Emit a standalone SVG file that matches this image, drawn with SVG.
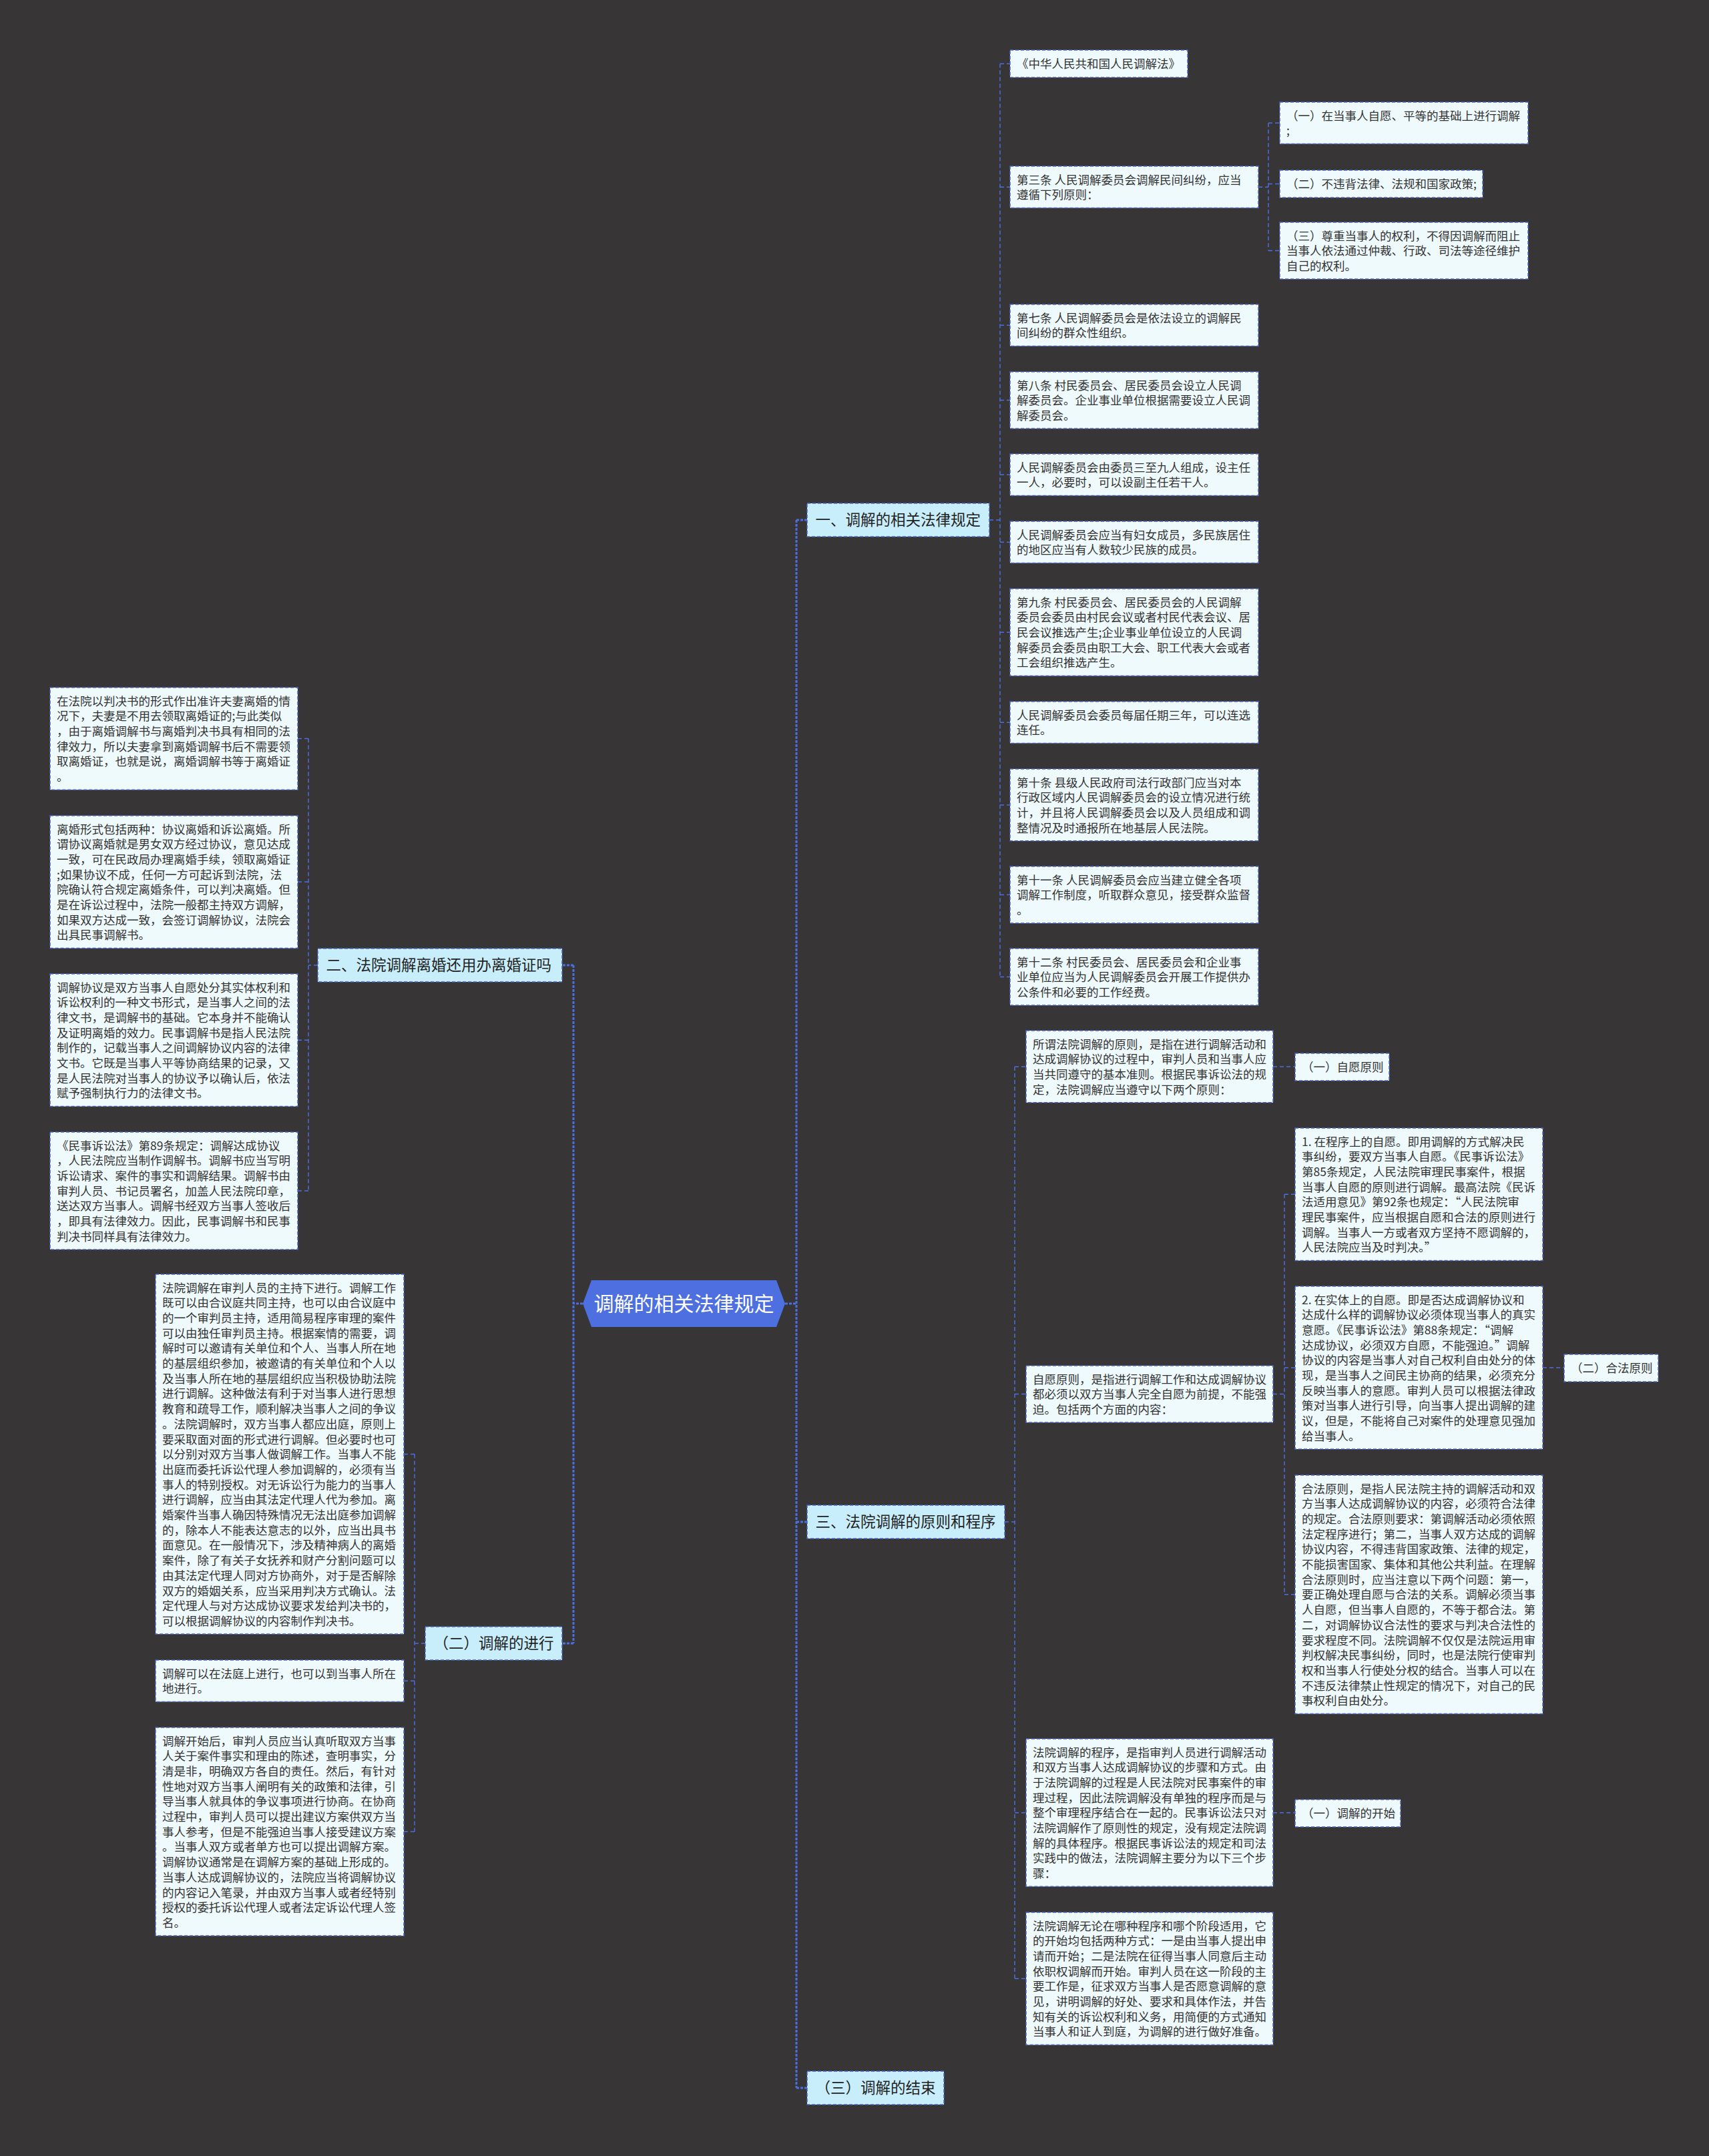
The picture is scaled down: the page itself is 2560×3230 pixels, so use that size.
<svg xmlns="http://www.w3.org/2000/svg" width="2560" height="3230" viewBox="0 0 2560 3230">
<style>
.leaf rect{fill:#effafd;stroke:#4b63c4;stroke-width:1.5;stroke-dasharray:5 3}
.l1 rect{fill:#c9eefb;stroke:#4b63c4;stroke-width:1.5;stroke-dasharray:5 3}
text{font-family:"Noto Sans CJK SC","Noto Sans",sans-serif;fill:#333}
.t{font-size:17.5px}
.l1 text{font-size:22.5px;fill:#222}
.root text{font-size:30px;fill:#fff}
.conn path{fill:none;stroke:#4b6ee0;stroke-width:1.5;stroke-dasharray:6 4}
.conn path.c1{stroke-width:3;stroke-dasharray:4 2}
</style>
<rect x="0" y="0" width="2560" height="3230" fill="#373536"/>

<g class="conn">
<path class="c1" d="M1176 1953H1193M1193 779V3128M1193 779H1209M1193 2280H1209M1193 3128H1209"/>
<path class="c1" d="M873 1953H859M859 1446V2462M859 1446H842M859 2462H842"/>
<path d="M1482 779H1498M1498 95.5V1463.5M1498 95.5H1513M1498 280.2H1513M1498 487.2H1513M1498 599.5H1513M1498 711.2H1513M1498 812.2H1513M1498 947.2H1513M1498 1082.2H1513M1498 1205.9H1513M1498 1340.5H1513M1498 1463.5H1513"/>
<path d="M1885 280.2H1900M1900 184.2V375.5M1900 184.2H1917M1900 275.5H1917M1900 375.5H1917"/>
<path d="M1505 2280H1520M1520 1597.9V2964.3M1520 1597.9H1537M1520 2088.6H1537M1520 2715.7H1537M1520 2964.3H1537"/>
<path d="M1907 1597.9H1940M1907 2715.7H1940M2311 2049H2343"/>
<path d="M1907 2088.6H1924M1924 1789.3V2388.8M1924 1789.3H1940M1924 2049H1940M1924 2388.8H1940"/>
<path d="M476 1446H462M462 1106.6V1784M462 1106.6H446M462 1321.3H446M462 1558.3H446M462 1784H446"/>
<path d="M637 2462H621M621 2178.5V2744M621 2178.5H605M621 2518.2H605M621 2744H605"/>
</g>

<g id="root" class="root">
<polygon points="873,1953 886,1918 1163,1918 1176,1953 1163,1988 886,1988" fill="#4d6fe0"/>
<text x="1024.5" y="1964" text-anchor="middle">调解的相关法律规定</text>
</g>

<g id="b1" class="l1"><rect x="1209" y="754" width="273" height="50"/><text x="1221.5" y="787">一、调解的相关法律规定</text></g>
<g id="b2" class="l1"><rect x="476" y="1421" width="366" height="50"/><text x="488.5" y="1454">二、法院调解离婚还用办离婚证吗</text></g>
<g id="b3" class="l1"><rect x="1209" y="2255" width="296" height="50"/><text x="1221.5" y="2288">三、法院调解的原则和程序</text></g>
<g id="b4" class="l1"><rect x="637" y="2437" width="205" height="50"/><text x="649.5" y="2470">（二）调解的进行</text></g>
<g id="b5" class="l1"><rect x="1209" y="3103" width="205" height="50"/><text x="1221.5" y="3136">（三）调解的结束</text></g>

<g id="n1" class="leaf"><rect x="1513" y="75" width="266" height="41"/><text class="t" x="1523" y="102">《中华人民共和国人民调解法》</text></g>
<g id="n2" class="leaf"><rect x="1513" y="249" width="372" height="62.4"/><text class="t" y="275.5"><tspan x="1523">第三条 人民调解委员会调解民间纠纷，应当</tspan><tspan x="1523" dy="22.7">遵循下列原则：</tspan></text></g>
<g id="n2a" class="leaf"><rect x="1917" y="153" width="372" height="62.4"/><text class="t" y="179.5"><tspan x="1927">（一）在当事人自愿、平等的基础上进行调解</tspan><tspan x="1927" dy="22.7">;</tspan></text></g>
<g id="n2b" class="leaf"><rect x="1917" y="255" width="304" height="41"/><text class="t" x="1927" y="282">（二）不违背法律、法规和国家政策;</text></g>
<g id="n2c" class="leaf"><rect x="1917" y="333" width="372" height="85.1"/><text class="t" y="359.5"><tspan x="1927">（三）尊重当事人的权利，不得因调解而阻止</tspan><tspan x="1927" dy="22.7">当事人依法通过仲裁、行政、司法等途径维护</tspan><tspan x="1927" dy="22.7">自己的权利。</tspan></text></g>
<g id="n3" class="leaf"><rect x="1513" y="456" width="372" height="62.4"/><text class="t" y="482.5"><tspan x="1523">第七条 人民调解委员会是依法设立的调解民</tspan><tspan x="1523" dy="22.7">间纠纷的群众性组织。</tspan></text></g>
<g id="n4" class="leaf"><rect x="1513" y="557" width="372" height="85.1"/><text class="t" y="583.5"><tspan x="1523">第八条 村民委员会、居民委员会设立人民调</tspan><tspan x="1523" dy="22.7">解委员会。企业事业单位根据需要设立人民调</tspan><tspan x="1523" dy="22.7">解委员会。</tspan></text></g>
<g id="n5" class="leaf"><rect x="1513" y="680" width="372" height="62.4"/><text class="t" y="706.5"><tspan x="1523">人民调解委员会由委员三至九人组成，设主任</tspan><tspan x="1523" dy="22.7">一人，必要时，可以设副主任若干人。</tspan></text></g>
<g id="n6" class="leaf"><rect x="1513" y="781" width="372" height="62.4"/><text class="t" y="807.5"><tspan x="1523">人民调解委员会应当有妇女成员，多民族居住</tspan><tspan x="1523" dy="22.7">的地区应当有人数较少民族的成员。</tspan></text></g>
<g id="n7" class="leaf"><rect x="1513" y="882" width="372" height="130.5"/><text class="t" y="908.5"><tspan x="1523">第九条 村民委员会、居民委员会的人民调解</tspan><tspan x="1523" dy="22.7">委员会委员由村民会议或者村民代表会议、居</tspan><tspan x="1523" dy="22.7">民会议推选产生;企业事业单位设立的人民调</tspan><tspan x="1523" dy="22.7">解委员会委员由职工大会、职工代表大会或者</tspan><tspan x="1523" dy="22.7">工会组织推选产生。</tspan></text></g>
<g id="n8" class="leaf"><rect x="1513" y="1051" width="372" height="62.4"/><text class="t" y="1077.5"><tspan x="1523">人民调解委员会委员每届任期三年，可以连选</tspan><tspan x="1523" dy="22.7">连任。</tspan></text></g>
<g id="n9" class="leaf"><rect x="1513" y="1152" width="372" height="107.8"/><text class="t" y="1178.5"><tspan x="1523">第十条 县级人民政府司法行政部门应当对本</tspan><tspan x="1523" dy="22.7">行政区域内人民调解委员会的设立情况进行统</tspan><tspan x="1523" dy="22.7">计，并且将人民调解委员会以及人员组成和调</tspan><tspan x="1523" dy="22.7">整情况及时通报所在地基层人民法院。</tspan></text></g>
<g id="n10" class="leaf"><rect x="1513" y="1298" width="372" height="85.1"/><text class="t" y="1324.5"><tspan x="1523">第十一条 人民调解委员会应当建立健全各项</tspan><tspan x="1523" dy="22.7">调解工作制度，听取群众意见，接受群众监督</tspan><tspan x="1523" dy="22.7">。</tspan></text></g>
<g id="n11" class="leaf"><rect x="1513" y="1421" width="372" height="85.1"/><text class="t" y="1447.5"><tspan x="1523">第十二条 村民委员会、居民委员会和企业事</tspan><tspan x="1523" dy="22.7">业单位应当为人民调解委员会开展工作提供办</tspan><tspan x="1523" dy="22.7">公条件和必要的工作经费。</tspan></text></g>

<g id="p1" class="leaf"><rect x="1537" y="1544" width="370" height="107.8"/><text class="t" y="1570.5"><tspan x="1547">所谓法院调解的原则，是指在进行调解活动和</tspan><tspan x="1547" dy="22.7">达成调解协议的过程中，审判人员和当事人应</tspan><tspan x="1547" dy="22.7">当共同遵守的基本准则。根据民事诉讼法的规</tspan><tspan x="1547" dy="22.7">定，法院调解应当遵守以下两个原则：</tspan></text></g>
<g id="p1a" class="leaf"><rect x="1940" y="1578" width="141" height="41"/><text class="t" x="1950" y="1605">（一）自愿原则</text></g>
<g id="p2" class="leaf"><rect x="1537" y="2046" width="370" height="85.1"/><text class="t" y="2072.5"><tspan x="1547">自愿原则，是指进行调解工作和达成调解协议</tspan><tspan x="1547" dy="22.7">都必须以双方当事人完全自愿为前提，不能强</tspan><tspan x="1547" dy="22.7">迫。包括两个方面的内容：</tspan></text></g>
<g id="p2a" class="leaf"><rect x="1940" y="1690" width="371" height="198.6"/><text class="t" y="1716.5"><tspan x="1950">1. 在程序上的自愿。即用调解的方式解决民</tspan><tspan x="1950" dy="22.7">事纠纷，要双方当事人自愿。《民事诉讼法》</tspan><tspan x="1950" dy="22.7">第85条规定，人民法院审理民事案件，根据</tspan><tspan x="1950" dy="22.7">当事人自愿的原则进行调解。最高法院《民诉</tspan><tspan x="1950" dy="22.7">法适用意见》第92条也规定：“人民法院审</tspan><tspan x="1950" dy="22.7">理民事案件，应当根据自愿和合法的原则进行</tspan><tspan x="1950" dy="22.7">调解。当事人一方或者双方坚持不愿调解的，</tspan><tspan x="1950" dy="22.7">人民法院应当及时判决。”</tspan></text></g>
<g id="p2b" class="leaf"><rect x="1940" y="1927" width="371" height="244"/><text class="t" y="1953.5"><tspan x="1950">2. 在实体上的自愿。即是否达成调解协议和</tspan><tspan x="1950" dy="22.7">达成什么样的调解协议必须体现当事人的真实</tspan><tspan x="1950" dy="22.7">意愿。《民事诉讼法》第88条规定：“调解</tspan><tspan x="1950" dy="22.7">达成协议，必须双方自愿，不能强迫。”调解</tspan><tspan x="1950" dy="22.7">协议的内容是当事人对自己权利自由处分的体</tspan><tspan x="1950" dy="22.7">现，是当事人之间民主协商的结果，必须充分</tspan><tspan x="1950" dy="22.7">反映当事人的意愿。审判人员可以根据法律政</tspan><tspan x="1950" dy="22.7">策对当事人进行引导，向当事人提出调解的建</tspan><tspan x="1950" dy="22.7">议，但是，不能将自己对案件的处理意见强加</tspan><tspan x="1950" dy="22.7">给当事人。</tspan></text></g>
<g id="p2b1" class="leaf"><rect x="2343" y="2029" width="141" height="41"/><text class="t" x="2353" y="2056">（二）合法原则</text></g>
<g id="p2c" class="leaf"><rect x="1940" y="2210" width="371" height="357.5"/><text class="t" y="2236.5"><tspan x="1950">合法原则，是指人民法院主持的调解活动和双</tspan><tspan x="1950" dy="22.7">方当事人达成调解协议的内容，必须符合法律</tspan><tspan x="1950" dy="22.7">的规定。合法原则要求：第调解活动必须依照</tspan><tspan x="1950" dy="22.7">法定程序进行；第二，当事人双方达成的调解</tspan><tspan x="1950" dy="22.7">协议内容，不得违背国家政策、法律的规定，</tspan><tspan x="1950" dy="22.7">不能损害国家、集体和其他公共利益。在理解</tspan><tspan x="1950" dy="22.7">合法原则时，应当注意以下两个问题：第一，</tspan><tspan x="1950" dy="22.7">要正确处理自愿与合法的关系。调解必须当事</tspan><tspan x="1950" dy="22.7">人自愿，但当事人自愿的，不等于都合法。第</tspan><tspan x="1950" dy="22.7">二，对调解协议合法性的要求与判决合法性的</tspan><tspan x="1950" dy="22.7">要求程度不同。法院调解不仅仅是法院运用审</tspan><tspan x="1950" dy="22.7">判权解决民事纠纷，同时，也是法院行使审判</tspan><tspan x="1950" dy="22.7">权和当事人行使处分权的结合。当事人可以在</tspan><tspan x="1950" dy="22.7">不违反法律禁止性规定的情况下，对自己的民</tspan><tspan x="1950" dy="22.7">事权利自由处分。</tspan></text></g>
<g id="p3" class="leaf"><rect x="1537" y="2605" width="370" height="221.3"/><text class="t" y="2631.5"><tspan x="1547">法院调解的程序，是指审判人员进行调解活动</tspan><tspan x="1547" dy="22.7">和双方当事人达成调解协议的步骤和方式。由</tspan><tspan x="1547" dy="22.7">于法院调解的过程是人民法院对民事案件的审</tspan><tspan x="1547" dy="22.7">理过程，因此法院调解没有单独的程序而是与</tspan><tspan x="1547" dy="22.7">整个审理程序结合在一起的。民事诉讼法只对</tspan><tspan x="1547" dy="22.7">法院调解作了原则性的规定，没有规定法院调</tspan><tspan x="1547" dy="22.7">解的具体程序。根据民事诉讼法的规定和司法</tspan><tspan x="1547" dy="22.7">实践中的做法，法院调解主要分为以下三个步</tspan><tspan x="1547" dy="22.7">骤：</tspan></text></g>
<g id="p3a" class="leaf"><rect x="1940" y="2696" width="158" height="41"/><text class="t" x="1950" y="2723">（一）调解的开始</text></g>
<g id="p4" class="leaf"><rect x="1537" y="2865" width="370" height="198.6"/><text class="t" y="2891.5"><tspan x="1547">法院调解无论在哪种程序和哪个阶段适用，它</tspan><tspan x="1547" dy="22.7">的开始均包括两种方式：一是由当事人提出申</tspan><tspan x="1547" dy="22.7">请而开始；二是法院在征得当事人同意后主动</tspan><tspan x="1547" dy="22.7">依职权调解而开始。审判人员在这一阶段的主</tspan><tspan x="1547" dy="22.7">要工作是，征求双方当事人是否愿意调解的意</tspan><tspan x="1547" dy="22.7">见，讲明调解的好处、要求和具体作法，并告</tspan><tspan x="1547" dy="22.7">知有关的诉讼权利和义务，用简便的方式通知</tspan><tspan x="1547" dy="22.7">当事人和证人到庭，为调解的进行做好准备。</tspan></text></g>

<g id="a1" class="leaf"><rect x="75" y="1030" width="371" height="153.2"/><text class="t" y="1056.5"><tspan x="85">在法院以判决书的形式作出准许夫妻离婚的情</tspan><tspan x="85" dy="22.7">况下，夫妻是不用去领取离婚证的;与此类似</tspan><tspan x="85" dy="22.7">，由于离婚调解书与离婚判决书具有相同的法</tspan><tspan x="85" dy="22.7">律效力，所以夫妻拿到离婚调解书后不需要领</tspan><tspan x="85" dy="22.7">取离婚证，也就是说，离婚调解书等于离婚证</tspan><tspan x="85" dy="22.7">。</tspan></text></g>
<g id="a2" class="leaf"><rect x="75" y="1222" width="371" height="198.6"/><text class="t" y="1248.5"><tspan x="85">离婚形式包括两种：协议离婚和诉讼离婚。所</tspan><tspan x="85" dy="22.7">谓协议离婚就是男女双方经过协议，意见达成</tspan><tspan x="85" dy="22.7">一致，可在民政局办理离婚手续，领取离婚证</tspan><tspan x="85" dy="22.7">;如果协议不成，任何一方可起诉到法院，法</tspan><tspan x="85" dy="22.7">院确认符合规定离婚条件，可以判决离婚。但</tspan><tspan x="85" dy="22.7">是在诉讼过程中，法院一般都主持双方调解，</tspan><tspan x="85" dy="22.7">如果双方达成一致，会签订调解协议，法院会</tspan><tspan x="85" dy="22.7">出具民事调解书。</tspan></text></g>
<g id="a3" class="leaf"><rect x="75" y="1459" width="371" height="198.6"/><text class="t" y="1485.5"><tspan x="85">调解协议是双方当事人自愿处分其实体权利和</tspan><tspan x="85" dy="22.7">诉讼权利的一种文书形式，是当事人之间的法</tspan><tspan x="85" dy="22.7">律文书，是调解书的基础。它本身并不能确认</tspan><tspan x="85" dy="22.7">及证明离婚的效力。民事调解书是指人民法院</tspan><tspan x="85" dy="22.7">制作的，记载当事人之间调解协议内容的法律</tspan><tspan x="85" dy="22.7">文书。它既是当事人平等协商结果的记录，又</tspan><tspan x="85" dy="22.7">是人民法院对当事人的协议予以确认后，依法</tspan><tspan x="85" dy="22.7">赋予强制执行力的法律文书。</tspan></text></g>
<g id="a4" class="leaf"><rect x="75" y="1696" width="371" height="175.9"/><text class="t" y="1722.5"><tspan x="85">《民事诉讼法》第89条规定：调解达成协议</tspan><tspan x="85" dy="22.7">，人民法院应当制作调解书。调解书应当写明</tspan><tspan x="85" dy="22.7">诉讼请求、案件的事实和调解结果。调解书由</tspan><tspan x="85" dy="22.7">审判人员、书记员署名，加盖人民法院印章，</tspan><tspan x="85" dy="22.7">送达双方当事人。调解书经双方当事人签收后</tspan><tspan x="85" dy="22.7">，即具有法律效力。因此，民事调解书和民事</tspan><tspan x="85" dy="22.7">判决书同样具有法律效力。</tspan></text></g>

<g id="c1" class="leaf"><rect x="233" y="1909" width="372" height="539.1"/><text class="t" y="1935.5"><tspan x="243">法院调解在审判人员的主持下进行。调解工作</tspan><tspan x="243" dy="22.7">既可以由合议庭共同主持，也可以由合议庭中</tspan><tspan x="243" dy="22.7">的一个审判员主持，适用简易程序审理的案件</tspan><tspan x="243" dy="22.7">可以由独任审判员主持。根据案情的需要，调</tspan><tspan x="243" dy="22.7">解时可以邀请有关单位和个人、当事人所在地</tspan><tspan x="243" dy="22.7">的基层组织参加，被邀请的有关单位和个人以</tspan><tspan x="243" dy="22.7">及当事人所在地的基层组织应当积极协助法院</tspan><tspan x="243" dy="22.7">进行调解。这种做法有利于对当事人进行思想</tspan><tspan x="243" dy="22.7">教育和疏导工作，顺利解决当事人之间的争议</tspan><tspan x="243" dy="22.7">。法院调解时，双方当事人都应出庭，原则上</tspan><tspan x="243" dy="22.7">要采取面对面的形式进行调解。但必要时也可</tspan><tspan x="243" dy="22.7">以分别对双方当事人做调解工作。当事人不能</tspan><tspan x="243" dy="22.7">出庭而委托诉讼代理人参加调解的，必须有当</tspan><tspan x="243" dy="22.7">事人的特别授权。对无诉讼行为能力的当事人</tspan><tspan x="243" dy="22.7">进行调解，应当由其法定代理人代为参加。离</tspan><tspan x="243" dy="22.7">婚案件当事人确因特殊情况无法出庭参加调解</tspan><tspan x="243" dy="22.7">的，除本人不能表达意志的以外，应当出具书</tspan><tspan x="243" dy="22.7">面意见。在一般情况下，涉及精神病人的离婚</tspan><tspan x="243" dy="22.7">案件，除了有关子女抚养和财产分割问题可以</tspan><tspan x="243" dy="22.7">由其法定代理人同对方协商外，对于是否解除</tspan><tspan x="243" dy="22.7">双方的婚姻关系，应当采用判决方式确认。法</tspan><tspan x="243" dy="22.7">定代理人与对方达成协议要求发给判决书的，</tspan><tspan x="243" dy="22.7">可以根据调解协议的内容制作判决书。</tspan></text></g>
<g id="c2" class="leaf"><rect x="233" y="2487" width="372" height="62.4"/><text class="t" y="2513.5"><tspan x="243">调解可以在法庭上进行，也可以到当事人所在</tspan><tspan x="243" dy="22.7">地进行。</tspan></text></g>
<g id="c3" class="leaf"><rect x="233" y="2588" width="372" height="312.1"/><text class="t" y="2614.5"><tspan x="243">调解开始后，审判人员应当认真听取双方当事</tspan><tspan x="243" dy="22.7">人关于案件事实和理由的陈述，查明事实，分</tspan><tspan x="243" dy="22.7">清是非，明确双方各自的责任。然后，有针对</tspan><tspan x="243" dy="22.7">性地对双方当事人阐明有关的政策和法律，引</tspan><tspan x="243" dy="22.7">导当事人就具体的争议事项进行协商。在协商</tspan><tspan x="243" dy="22.7">过程中，审判人员可以提出建议方案供双方当</tspan><tspan x="243" dy="22.7">事人参考，但是不能强迫当事人接受建议方案</tspan><tspan x="243" dy="22.7">。当事人双方或者单方也可以提出调解方案。</tspan><tspan x="243" dy="22.7">调解协议通常是在调解方案的基础上形成的。</tspan><tspan x="243" dy="22.7">当事人达成调解协议的，法院应当将调解协议</tspan><tspan x="243" dy="22.7">的内容记入笔录，并由双方当事人或者经特别</tspan><tspan x="243" dy="22.7">授权的委托诉讼代理人或者法定诉讼代理人签</tspan><tspan x="243" dy="22.7">名。</tspan></text></g>
</svg>
